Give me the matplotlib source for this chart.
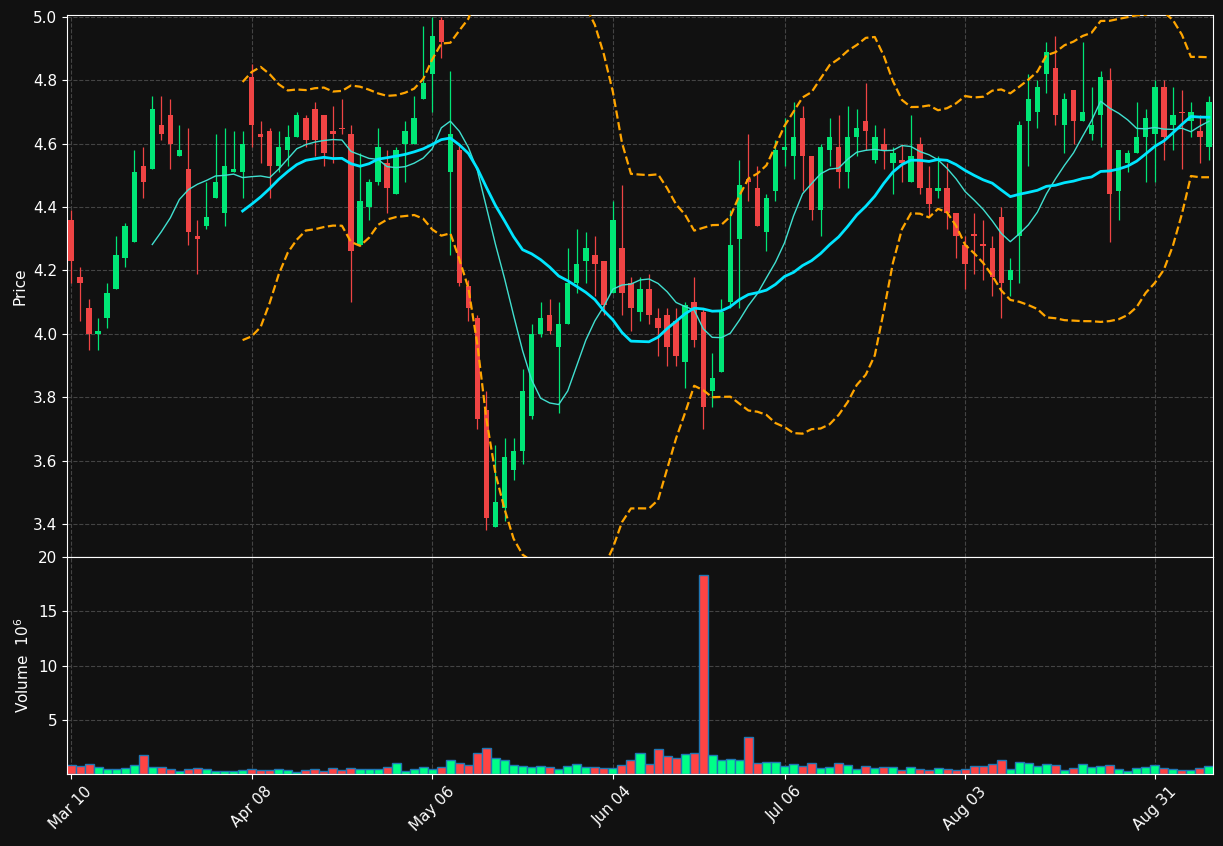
import matplotlib
matplotlib.use("Agg")
import matplotlib.pyplot as plt
import numpy as np
import pandas as pd

# ---- data -----------------------------------------------------------------
opens = [4.36, 4.18, 4.08, 4.00, 4.05, 4.14, 4.24, 4.29, 4.53, 4.52,
         4.66, 4.69, 4.56, 4.52, 4.31, 4.34, 4.43, 4.38, 4.51, 4.51,
         4.81, 4.63, 4.64, 4.53, 4.58, 4.62, 4.68, 4.71, 4.69, 4.64,
         4.648, 4.63, 4.28, 4.40, 4.48, 4.54, 4.44, 4.60, 4.60, 4.74,
         4.82, 4.99, 4.51, 4.58, 4.15, 4.05, 3.76, 3.39, 3.45, 3.57,
         3.63, 3.74, 4.00, 4.06, 3.96, 4.03, 4.16, 4.23, 4.25, 4.23,
         4.13, 4.27, 4.16, 4.07, 4.14, 4.05, 4.06, 4.04, 3.91, 4.10,
         4.07, 3.82, 3.88, 4.10, 4.30, 4.49, 4.46, 4.32, 4.45, 4.58,
         4.56, 4.68, 4.56, 4.39, 4.58, 4.59, 4.51, 4.62, 4.67, 4.55,
         4.60, 4.54, 4.55, 4.48, 4.60, 4.46, 4.45, 4.46, 4.38, 4.28,
         4.312, 4.280, 4.27, 4.37, 4.17, 4.31, 4.67, 4.70, 4.82, 4.84,
         4.66, 4.77, 4.67, 4.63, 4.69, 4.80, 4.45, 4.54, 4.57, 4.62,
         4.63, 4.78, 4.66, 4.699, 4.67, 4.64, 4.59]
closes = [4.23, 4.16, 4.00, 4.01, 4.13, 4.25, 4.34, 4.51, 4.48, 4.71,
          4.63, 4.60, 4.58, 4.32, 4.30, 4.37, 4.48, 4.53, 4.52, 4.60,
          4.66, 4.62, 4.53, 4.59, 4.62, 4.69, 4.61, 4.61, 4.57, 4.63,
          4.645, 4.26, 4.42, 4.48, 4.59, 4.46, 4.58, 4.64, 4.68, 4.79,
          4.94, 4.92, 4.63, 4.16, 4.08, 3.73, 3.42, 3.47, 3.61, 3.63,
          3.82, 4.00, 4.05, 4.01, 4.03, 4.16, 4.22, 4.27, 4.22, 4.09,
          4.36, 4.13, 4.08, 4.14, 4.06, 4.02, 3.96, 3.93, 4.09, 3.98,
          3.77, 3.86, 4.07, 4.28, 4.47, 4.48, 4.34, 4.43, 4.58, 4.59,
          4.62, 4.56, 4.39, 4.59, 4.62, 4.51, 4.62, 4.65, 4.64, 4.62,
          4.58, 4.57, 4.54, 4.56, 4.46, 4.41, 4.46, 4.38, 4.31, 4.22,
          4.310, 4.278, 4.18, 4.16, 4.20, 4.66, 4.74, 4.78, 4.89, 4.69,
          4.74, 4.67, 4.70, 4.66, 4.81, 4.44, 4.58, 4.57, 4.62, 4.68,
          4.78, 4.62, 4.69, 4.697, 4.70, 4.62, 4.73]
highs = [4.39, 4.21, 4.11, 4.05, 4.16, 4.31, 4.35, 4.58, 4.59, 4.75,
         4.75, 4.74, 4.66, 4.65, 4.36, 4.48, 4.63, 4.65, 4.64, 4.64,
         4.85, 4.67, 4.65, 4.64, 4.66, 4.70, 4.69, 4.73, 4.69, 4.72,
         4.74, 4.66, 4.57, 4.49, 4.65, 4.58, 4.59, 4.67, 4.75, 4.97,
         5.00, 5.00, 4.83, 4.60, 4.17, 4.06, 3.82, 3.65, 3.67, 3.67,
         3.89, 4.03, 4.10, 4.11, 4.10, 4.27, 4.33, 4.32, 4.31, 4.23,
         4.42, 4.47, 4.18, 4.18, 4.19, 4.08, 4.08, 4.08, 4.10, 4.18,
         4.08, 3.94, 4.11, 4.39, 4.55, 4.63, 4.53, 4.44, 4.61, 4.68,
         4.73, 4.72, 4.56, 4.60, 4.68, 4.69, 4.72, 4.71, 4.79, 4.66,
         4.65, 4.59, 4.60, 4.69, 4.62, 4.53, 4.56, 4.54, 4.38, 4.31,
         4.38, 4.36, 4.31, 4.40, 4.24, 4.67, 4.82, 4.80, 4.92, 4.94,
         4.76, 4.77, 4.92, 4.78, 4.83, 4.84, 4.58, 4.58, 4.73, 4.71,
         4.80, 4.80, 4.78, 4.77, 4.73, 4.69, 4.75]
lows = [4.16, 4.04, 3.95, 3.95, 4.02, 4.14, 4.21, 4.29, 4.43, 4.52,
        4.61, 4.52, 4.56, 4.28, 4.19, 4.33, 4.43, 4.34, 4.51, 4.43,
        4.59, 4.54, 4.43, 4.51, 4.53, 4.62, 4.59, 4.56, 4.53, 4.54,
        4.63, 4.10, 4.28, 4.36, 4.47, 4.38, 4.44, 4.48, 4.60, 4.74,
        4.70, 4.87, 4.25, 4.15, 4.04, 3.70, 3.38, 3.39, 3.41, 3.54,
        3.59, 3.73, 3.99, 4.00, 3.75, 4.03, 4.13, 4.16, 4.12, 4.06,
        4.13, 4.06, 4.01, 4.04, 4.03, 3.93, 3.90, 3.90, 3.83, 3.96,
        3.70, 3.77, 3.88, 4.08, 4.08, 4.42, 4.34, 4.26, 4.42, 4.53,
        4.49, 4.45, 4.36, 4.31, 4.53, 4.46, 4.46, 4.56, 4.58, 4.54,
        4.52, 4.44, 4.48, 4.48, 4.44, 4.37, 4.43, 4.33, 4.24, 4.14,
        4.19, 4.17, 4.12, 4.05, 4.12, 4.16, 4.53, 4.65, 4.76, 4.66,
        4.57, 4.60, 4.67, 4.61, 4.59, 4.29, 4.36, 4.51, 4.57, 4.48,
        4.48, 4.55, 4.58, 4.52, 4.62, 4.54, 4.55]
volumes = [0.82, 0.70, 0.92, 0.63, 0.44, 0.44, 0.54, 0.82, 1.77, 0.63,
           0.63, 0.44, 0.25, 0.44, 0.54, 0.44, 0.25, 0.25, 0.25, 0.35,
           0.44, 0.35, 0.35, 0.44, 0.35, 0.16, 0.35, 0.44, 0.25, 0.54,
           0.35, 0.54, 0.44, 0.44, 0.44, 0.63, 1.01, 0.25, 0.44, 0.63,
           0.44, 0.63, 1.30, 1.01, 0.82, 1.96, 2.40, 1.45, 1.30, 0.82,
           0.73, 0.63, 0.73, 0.63, 0.44, 0.73, 0.92, 0.63, 0.63, 0.54,
           0.54, 0.82, 1.30, 1.96, 0.92, 2.34, 1.64, 1.45, 1.86, 1.96,
           18.3, 1.77, 1.30, 1.39, 1.30, 3.38, 1.01, 1.11, 1.11, 0.73,
           0.92, 0.73, 1.01, 0.54, 0.63, 1.01, 0.82, 0.44, 0.73, 0.54,
           0.63, 0.63, 0.35, 0.63, 0.44, 0.35, 0.54, 0.44, 0.35, 0.44,
           0.73, 0.73, 0.92, 1.30, 0.44, 1.11, 1.01, 0.73, 0.92, 0.82,
           0.35, 0.54, 0.92, 0.63, 0.73, 0.82, 0.44, 0.25, 0.54, 0.63,
           0.82, 0.54, 0.44, 0.35, 0.35, 0.54, 0.73]
tick_pos = [0, 20, 40, 60, 79, 99, 120]
tick_labels = ["Mar 10", "Apr 08", "May 06", "Jun 04", "Jul 06", "Aug 03", "Aug 31"]

BG = "#111111"
UP, DOWN = "#00e676", "#ef4444"
VUP, VDOWN = "#00ff88", "#ff4444"

df = pd.DataFrame({"o": opens, "h": highs, "l": lows, "c": closes, "v": volumes})
x = np.arange(len(df))
up = df["c"] >= df["o"]
mav10 = df["c"].rolling(10).mean()
mav20 = df["c"].rolling(20).mean()
std20 = df["c"].rolling(20).std(ddof=0)

fig = plt.figure(figsize=(12.23, 8.46), dpi=100, facecolor=BG)
ax = fig.add_axes([0.0548, 0.3416, 0.937, 0.6407], facecolor=BG)
axv = fig.add_axes([0.0548, 0.0851, 0.937, 0.2565], facecolor=BG, sharex=ax)

cols = np.where(up, UP, DOWN)
ax.vlines(x, df["l"], df["h"], colors=cols, linewidth=0.9, zorder=2)
body = (df["c"] - df["o"]).abs().clip(lower=0.004)
ax.bar(x, body, bottom=np.minimum(df["o"], df["c"]), width=0.6, color=cols, zorder=3)

ax.plot(x, mav10, color="#40e0d0", linewidth=1.0, zorder=4)
ax.plot(x, mav20, color="#00e5ff", linewidth=2.0, zorder=4)
ax.plot(x, mav20 + 2 * std20, color="#ffa500", linestyle="--", linewidth=1.6, zorder=4)
ax.plot(x, mav20 - 2 * std20, color="#ffa500", linestyle="--", linewidth=1.6, zorder=4)

axv.bar(x, df["v"], width=1.0, color=np.where(up, VUP, VDOWN),
        edgecolor="#1f77b4", linewidth=1.0)

ax.set_xlim(-0.44, len(df) - 0.56)
ax.set_ylim(3.296, 5.006)
ax.set_yticks(np.arange(3.4, 5.01, 0.2))
axv.set_ylim(0, 20)
axv.set_yticks([5, 10, 15, 20])
axv.set_xticks(tick_pos)
axv.set_xticklabels(tick_labels, rotation=45, ha="center")
ax.tick_params(axis="x", labelbottom=False, length=0)
ax.set_ylabel("Price", color="white", fontsize=11)
axv.set_ylabel("Volume  $10^6$", color="white", fontsize=11)

for a in (ax, axv):
    a.grid(True, color="#444444", linestyle="--", linewidth=0.8)
    a.set_axisbelow(True)
    a.tick_params(colors="white", labelsize=11)
    for s in a.spines.values():
        s.set_color("white")

fig.savefig("out.png", dpi=100, facecolor=BG)
